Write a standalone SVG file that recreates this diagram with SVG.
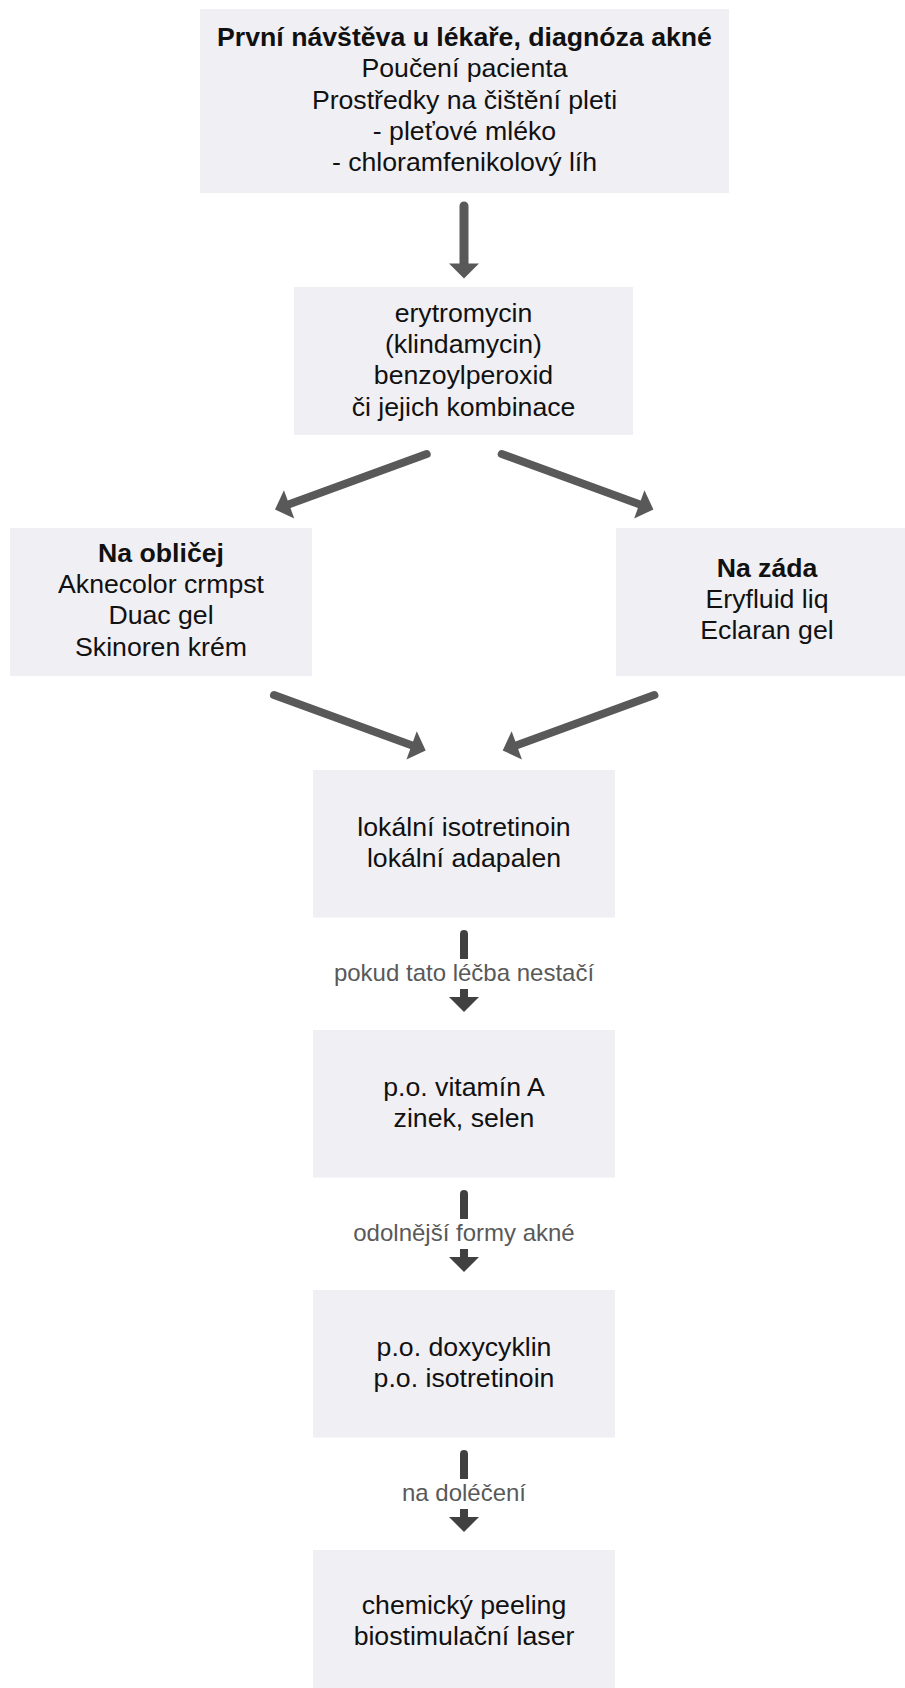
<svg xmlns="http://www.w3.org/2000/svg" width="905" height="1688" viewBox="0 0 905 1688">
<style>
  .box { fill: #F0EFF4; }
  .t { font-family: "Liberation Sans", Arial, sans-serif; font-size: 26.67px; fill: #111; text-anchor: middle; }
  .b { font-weight: bold; }
  .lbl { font-family: "Liberation Sans", Arial, sans-serif; font-size: 24px; fill: #595959; text-anchor: middle; }
  .c1 { stroke: #595959; fill: none; stroke-linecap: round; }
  .c2 { stroke: #404040; fill: none; stroke-linecap: round; stroke-width: 8; }
  .lblbg { fill: #FFFFFF; }
</style>
<defs>
  <marker id="h1" markerUnits="userSpaceOnUse" markerWidth="16" markerHeight="30" refX="0" refY="15" orient="auto" overflow="visible">
    <path d="M0,0 L15,15 L0,30 z" fill="#595959"/>
  </marker>
  <marker id="h2" markerUnits="userSpaceOnUse" markerWidth="16" markerHeight="30" refX="0" refY="15" orient="auto" overflow="visible">
    <path d="M0,0 L15,15 L0,30 z" fill="#404040"/>
  </marker>
</defs>
<rect width="905" height="1688" fill="#FFFFFF"/>

<g id="connectors">
  <line class="c1" stroke-width="9" x1="464" y1="206" x2="464" y2="263.5" marker-end="url(#h1)"/>
  <line class="c1" stroke-width="8" x1="426.7" y1="454" x2="289.1" y2="504.3" marker-end="url(#h1)"/>
  <line class="c1" stroke-width="8" x1="501.7" y1="454" x2="639.3" y2="504.3" marker-end="url(#h1)"/>
  <line class="c1" stroke-width="8" x1="274" y1="695" x2="411.6" y2="745.3" marker-end="url(#h1)"/>
  <line class="c1" stroke-width="8" x1="654.4" y1="695" x2="516.8" y2="745.3" marker-end="url(#h1)"/>

  <line class="c2" x1="464" y1="934" x2="464" y2="997" marker-end="url(#h2)"/>
  <rect class="lblbg" x="330" y="959" width="268" height="30"/>
  <text class="lbl" x="464" y="981">pokud tato léčba nestačí</text>

  <line class="c2" x1="464" y1="1194" x2="464" y2="1257" marker-end="url(#h2)"/>
  <rect class="lblbg" x="348" y="1219" width="232" height="30"/>
  <text class="lbl" x="464" y="1241">odolnější formy akné</text>

  <line class="c2" x1="464" y1="1454" x2="464" y2="1517" marker-end="url(#h2)"/>
  <rect class="lblbg" x="397" y="1479" width="134" height="30"/>
  <text class="lbl" x="464" y="1501">na doléčení</text>
</g>

<g id="n1">
  <rect class="box" x="200" y="9" width="529" height="184"/>
  <text class="t b" x="464.5" y="46">První návštěva u lékaře, diagnóza akné</text>
  <text class="t" x="464.5" y="77.3">Poučení pacienta</text>
  <text class="t" x="464.5" y="108.6">Prostředky na čištění pleti</text>
  <text class="t" x="464.5" y="139.9">- pleťové mléko</text>
  <text class="t" x="464.5" y="171.2">- chloramfenikolový líh</text>
</g>

<g id="n2">
  <rect class="box" x="294" y="287" width="339" height="148"/>
  <text class="t" x="463.5" y="321.7">erytromycin</text>
  <text class="t" x="463.5" y="353">(klindamycin)</text>
  <text class="t" x="463.5" y="384.3">benzoylperoxid</text>
  <text class="t" x="463.5" y="415.6">či jejich kombinace</text>
</g>

<g id="n3">
  <rect class="box" x="10" y="528" width="302" height="148"/>
  <text class="t b" x="161" y="561.7">Na obličej</text>
  <text class="t" x="161" y="593">Aknecolor crmpst</text>
  <text class="t" x="161" y="624.3">Duac gel</text>
  <text class="t" x="161" y="655.6">Skinoren krém</text>
</g>

<g id="n4">
  <rect class="box" x="616" y="528" width="302" height="148"/>
  <text class="t b" x="767" y="576.7">Na záda</text>
  <text class="t" x="767" y="608">Eryfluid liq</text>
  <text class="t" x="767" y="639.3">Eclaran gel</text>
</g>

<g id="n5">
  <rect class="box" x="313" y="770" width="302" height="147.5"/>
  <text class="t" x="464" y="836">lokální isotretinoin</text>
  <text class="t" x="464" y="867.3">lokální adapalen</text>
</g>

<g id="n6">
  <rect class="box" x="313" y="1030" width="302" height="147.5"/>
  <text class="t" x="464" y="1095.5">p.o. vitamín A</text>
  <text class="t" x="464" y="1126.8">zinek, selen</text>
</g>

<g id="n7">
  <rect class="box" x="313" y="1290" width="302" height="147.5"/>
  <text class="t" x="464" y="1356">p.o. doxycyklin</text>
  <text class="t" x="464" y="1387.3">p.o. isotretinoin</text>
</g>

<g id="n8">
  <rect class="box" x="313" y="1550" width="302" height="147.5"/>
  <text class="t" x="464" y="1613.5">chemický peeling</text>
  <text class="t" x="464" y="1644.8">biostimulační laser</text>
</g>
</svg>
